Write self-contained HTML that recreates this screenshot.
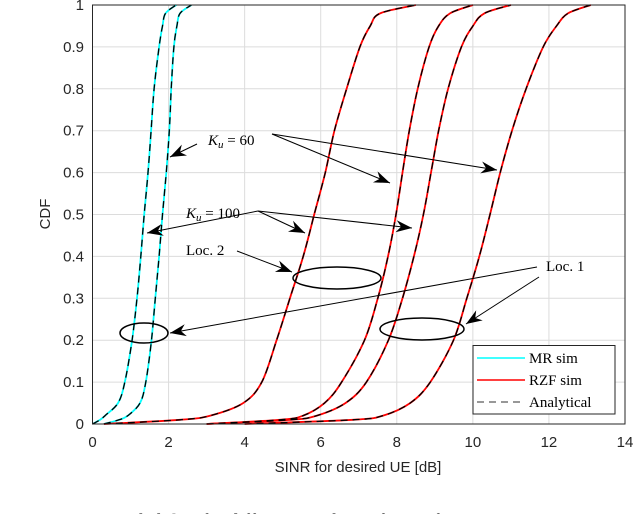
<!DOCTYPE html>
<html><head><meta charset="utf-8"><style>
html,body{margin:0;padding:0;background:#fff;width:634px;height:514px;overflow:hidden}
svg{display:block}
.tk{font-family:"Liberation Sans",sans-serif;font-size:15px;fill:#262626}
.lx{font-family:"Liberation Serif",serif;font-size:15px;fill:#000}
</style></head><body>
<svg id="chart" width="634" height="514" viewBox="0 0 634 514" xmlns="http://www.w3.org/2000/svg">
<g id="grid"></g>
<g id="curves"></g>
<rect x="92.5" y="5" width="532.5" height="419" fill="none" stroke="#262626" stroke-width="1"/>
<g id="ticks"></g>
<text class="tk" font-size="16" transform="translate(50,214) rotate(-90)" text-anchor="middle">CDF</text>
<text class="tk" font-size="16" x="358" y="472" text-anchor="middle">SINR for desired UE [dB]</text>
<g stroke="#000" stroke-width="1" fill="none">
<line x1="197" y1="144" x2="170" y2="157"/>
<line x1="272" y1="134" x2="390" y2="183"/>
<line x1="272" y1="134" x2="497" y2="170"/>
<line x1="258" y1="211" x2="147" y2="233"/>
<line x1="258" y1="211" x2="305" y2="233"/>
<line x1="258" y1="211" x2="412" y2="228"/>
<line x1="237" y1="251" x2="292" y2="272"/>
<line x1="537" y1="267" x2="170" y2="333"/>
<line x1="539" y1="277" x2="466" y2="324"/>
<ellipse cx="144" cy="333" rx="24" ry="10" stroke-width="1.5"/>
<ellipse cx="337" cy="278" rx="44" ry="11" stroke-width="1.5"/>
<ellipse cx="422" cy="329" rx="42" ry="11" stroke-width="1.5"/>
</g>
<g fill="#000" id="heads"></g>
<text class="lx" x="208" y="145" font-size="16"><tspan font-style="italic">K</tspan><tspan font-style="italic" font-size="11" dy="3">u</tspan><tspan dy="-3"> = 60</tspan></text>
<text class="lx" x="186" y="218" font-size="16"><tspan font-style="italic">K</tspan><tspan font-style="italic" font-size="11" dy="3">u</tspan><tspan dy="-3"> = 100</tspan></text>
<text class="lx" x="186" y="255">Loc. 2</text>
<text class="lx" x="546" y="271">Loc. 1</text>
<g>
<rect x="473" y="345.5" width="142" height="68.5" fill="#fff" stroke="#262626"/>
<line x1="477" y1="358" x2="525" y2="358" stroke="#00ffff" stroke-width="1.5"/>
<text class="lx" x="529" y="363">MR sim</text>
<line x1="477" y1="380" x2="525" y2="380" stroke="#ff0000" stroke-width="1.5"/>
<text class="lx" x="529" y="385">RZF sim</text>
<line x1="477" y1="402" x2="525" y2="402" stroke="#777" stroke-width="1.5" stroke-dasharray="7,5"/>
<text class="lx" x="529" y="407">Analytical</text>
</g>
<text x="0" y="527" font-family="Liberation Serif,serif" font-size="19" fill="#000">Fig. 2:  Outage probability for different numbers of users for</text>
</svg>
<script>
const cdfLevels=[0,0.01,0.02,0.05,0.1,0.2,0.3,0.4,0.5,0.6,0.7,0.8,0.9,0.95,0.98,1];
const mrLoc1=[0,0.2,0.33,0.67,0.85,1.04,1.17,1.27,1.36,1.46,1.54,1.62,1.75,1.84,1.92,2.2];
const mrLoc2=[0.3,0.7,0.93,1.25,1.4,1.55,1.65,1.75,1.84,1.94,2.02,2.07,2.14,2.22,2.3,2.6];
const rzf1=[0.3,2.3,3.1,3.96,4.45,4.84,5.19,5.54,5.83,6.12,6.36,6.68,7.03,7.3,7.56,8.5];
const rzf2=[3,4.93,5.54,6.1,6.55,7.15,7.5,7.77,7.98,8.15,8.33,8.55,8.85,9.1,9.4,10];
const rzf3=[3,5.2,5.9,6.65,7.2,7.78,8.15,8.45,8.7,8.9,9.1,9.35,9.7,10.0,10.3,11];
const rzf4=[4,6.85,7.64,8.35,8.88,9.49,9.84,10.17,10.45,10.72,11.03,11.4,11.85,12.2,12.5,13.1];
const xTicks=[0,2,4,6,8,10,12,14];
const yTicks=[0,0.1,0.2,0.3,0.4,0.5,0.6,0.7,0.8,0.9,1];
const yTickLabels=["0","0.1","0.2","0.3","0.4","0.5","0.6","0.7","0.8","0.9","1"];
const NS="http://www.w3.org/2000/svg";
const X=v=>92.5+v*(532.5/14);
const Y=v=>424-v*419;
const grid=document.getElementById('grid'),ticks=document.getElementById('ticks'),curves=document.getElementById('curves');
function mk(tag,attrs,parent){const e=document.createElementNS(NS,tag);for(const k in attrs)e.setAttribute(k,attrs[k]);parent.appendChild(e);return e;}
xTicks.forEach(t=>{
 const g=mk('line',{x1:X(t),x2:X(t),y1:5,y2:424,stroke:'#dcdcdc','stroke-width':1},grid);
 
 
 const l=mk('text',{x:X(t),y:447,'text-anchor':'middle',class:'tk'},ticks);l.textContent=t;
 
 
});
yTicks.forEach((t,i)=>{
 const g=mk('line',{x1:92.5,x2:625,y1:Y(t),y2:Y(t),stroke:'#dcdcdc','stroke-width':1},grid);
 
 
 const l=mk('text',{x:84,y:Y(t)+5,'text-anchor':'end',class:'tk'},ticks);l.textContent=yTickLabels[i];
 
 
});
function path(xs){
 const P=xs.map((x,i)=>[X(x),Y(cdfLevels[i])]);
 let d='M'+P[0][0].toFixed(1)+','+P[0][1].toFixed(1);
 for(let i=0;i<P.length-1;i++){
  const p0=P[Math.max(i-1,0)],p1=P[i],p2=P[i+1],p3=P[Math.min(i+2,P.length-1)];
  const c1=[p1[0]+(p2[0]-p0[0])/6,p1[1]+(p2[1]-p0[1])/6];
  const c2=[p2[0]-(p3[0]-p1[0])/6,p2[1]-(p3[1]-p1[1])/6];
  d+='C'+c1.map(v=>v.toFixed(1)).join(',')+' '+c2.map(v=>v.toFixed(1)).join(',')+' '+p2.map(v=>v.toFixed(1)).join(',');
 }
 return d;
}
const sims=[[mrLoc1,'#00ffff','mr-loc1'],[mrLoc2,'#00ffff','mr-loc2'],[rzf1,'#ff0000','rzf-1'],[rzf2,'#ff0000','rzf-2'],[rzf3,'#ff0000','rzf-3'],[rzf4,'#ff0000','rzf-4']];
sims.forEach(s=>{
 const p=mk('path',{d:path(s[0]),fill:'none',stroke:s[1],'stroke-width':1.8},curves);
 
 
});
sims.forEach(s=>{
 const p=mk('path',{d:path(s[0]),fill:'none',stroke:'#000','stroke-width':1.3,'stroke-dasharray':'7,5'},curves);
 
 
});
const heads=document.getElementById('heads');
[[197,144,170,157],[272,134,390,183],[272,134,497,170],[258,211,147,233],[258,211,305,233],[258,211,412,228],[237,251,292,272],[537,267,170,333],[539,277,466,324]].forEach(a=>{
 const dx=a[2]-a[0],dy=a[3]-a[1],L=Math.hypot(dx,dy),ux=dx/L,uy=dy/L,px=-uy,py=ux;
 const bx=a[2]-ux*16,by=a[3]-uy*16,mx=a[2]-ux*11,my=a[3]-uy*11;
 const h=mk('polygon',{points:`${a[2]},${a[3]} ${bx+px*6},${by+py*6} ${mx},${my} ${bx-px*6},${by-py*6}`},heads);
 
 
});
</script>
</body></html>
